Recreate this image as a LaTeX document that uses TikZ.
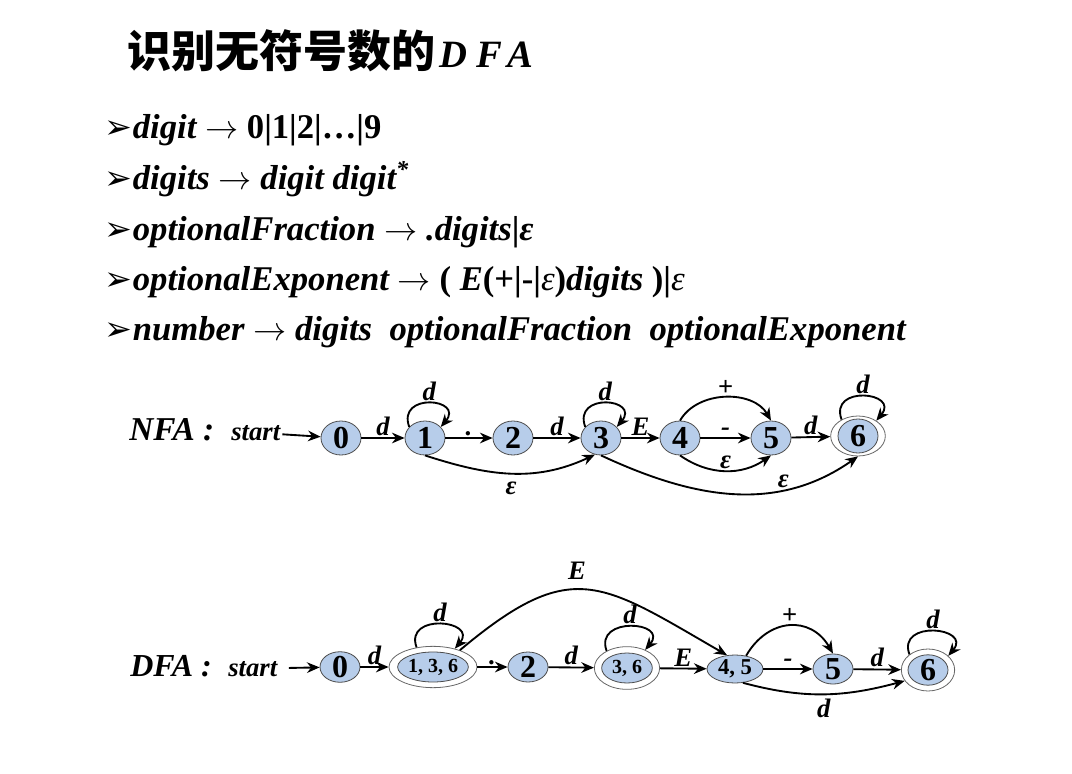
\documentclass[tikz,border=0pt]{standalone}
\usepackage{fontspec}
\usetikzlibrary{shapes.geometric,arrows.meta}
\setmainfont{Liberation Serif}
\newfontfamily\cnfont{Noto Sans CJK SC}
\newfontfamily\symfont{DejaVu Sans}
\newfontfamily\wideserif{Liberation Serif}[LetterSpace=22]
\definecolor{statefill}{HTML}{B7CDEA}
\newcommand\derives{ $\rightarrow$ }
\newcommand\rulemark{{\symfont\fontsize{25}{25}\selectfont\mdseries\upshape ➢}}

\begin{document}
\begin{tikzpicture}[x=0.75pt,y=0.75pt,>={Stealth[length=9.5pt,width=8pt]},line width=1.4pt]
  \tikzstyle{state}=[ellipse,draw=black!70,line width=0.6pt,fill=statefill,inner sep=0pt,
                     minimum width=30pt,minimum height=25.5pt,font=\fontsize{24}{24}\selectfont\bfseries]
  \tikzstyle{ring}=[ellipse,draw=black!60,line width=0.6pt,fill=white,inner sep=0pt]
  \tikzstyle{lbl}=[inner sep=1pt,font=\fontsize{20}{20}\selectfont\bfseries\itshape]
  \tikzstyle{tag}=[anchor=base west,inner sep=1pt,font=\bfseries\itshape]
  \tikzstyle{rule}=[anchor=base west,inner sep=0pt,font=\fontsize{26}{26}\selectfont\bfseries\itshape]
  \tikzstyle{selfloop}=[out=110,in=50,distance=28pt]
  \useasboundingbox (0,0) rectangle (1072,-774);

  % title
  \node[anchor=base west,inner sep=0pt] (title) at (127,-68)
    {{\cnfont\fontsize{33}{33}\selectfont\bfseries 识别无符号数的}\hspace{3pt}{\wideserif\fontsize{29}{29}\selectfont\bfseries\itshape DFA}};

  % regular definitions
  \node[rule] (r1) at (104,-139) {\rulemark digit\derives\textup{0|1|2|…|9}};
  \node[rule] (r2) at (104,-190) {\rulemark digits\derives digit digit\textsuperscript{*}};
  \node[rule] (r3) at (104,-240) {\rulemark optionalFraction\derives .digits\textup{|}ε};
  \node[rule] (r4) at (104,-290) {\rulemark optionalExponent\derives\textup{(} E\textup{(+|-|}\textmd{ε}\textup{)}digits \textup{)|}\textmd{ε}};
  \node[rule] (r5) at (104,-340) {\rulemark number\derives digits\ \ optionalFraction\ \ optionalExponent};

  % NFA
  \node[tag,font=\fontsize{25}{25}\selectfont\bfseries\itshape] (nfa) at (127,-440) {NFA :};
  \node[tag,font=\fontsize{20}{20}\selectfont\bfseries\itshape] (nstart) at (229,-440) {start};
  \node[state] (n0) at (341,-438) {0};
  \node[state] (n1) at (425,-438) {1};
  \node[state] (n2) at (513,-438) {2};
  \node[state] (n3) at (601,-438) {3};
  \node[state] (n4) at (680,-438) {4};
  \node[state] (n5) at (771,-438) {5};
  \node[ring,minimum width=41pt,minimum height=30pt] (n6r) at (858,-436) {};
  \node[state] (n6) at (858,-436) {6};

  \draw[->] (nstart) -- (n0);
  \draw[->] (n0) -- node[lbl,above]{d} (n1);
  \draw[->] (n1) -- node[lbl,above]{.} (n2);
  \draw[->] (n2) -- node[lbl,above]{d} (n3);
  \draw[->] (n3) -- node[lbl,above]{E} (n4);
  \draw[->] (n4) -- node[lbl,above]{-} (n5);
  \draw[->] (n5) -- node[lbl,above]{d} (n6r);
  \draw[->] (n1.145) to[selfloop] node[lbl,above]{d} (n1.35);
  \draw[->] (n3.145) to[selfloop] node[lbl,above]{d} (n3.35);
  \draw[->] (n6r.135) to[selfloop] node[lbl,above]{d} (n6r.40);
  \draw[->] (n4.90) to[out=60,in=120] node[lbl,above]{+} (n5.90);
  \draw[->] (n4.270) to[out=-35,in=-145] node[lbl,above]{ε} (n5.270);
  \draw[->] (n1.270) to[out=-18,in=205] node[lbl,below=5pt]{ε} (n3.250);
  \draw[->] (n3.270) to[out=-25,in=215] node[lbl,above,pos=0.7]{ε} (n6r.270);

  % DFA
  \node[tag,font=\fontsize{24}{24}\selectfont\bfseries\itshape] (dfa) at (128,-676) {DFA :};
  \node[tag,font=\fontsize{20}{20}\selectfont\bfseries\itshape] (dstart) at (226,-676) {start};
  \node[state,minimum height=22.5pt] (d0) at (340,-667) {0};
  \node[ring,minimum width=66pt,minimum height=31pt] (dr136) at (433,-667) {};
  \node[state,minimum width=50pt,minimum height=22.5pt,font=\fontsize{15}{15}\selectfont\bfseries] (d136) at (433,-667) {1, 3, 6};
  \node[state,minimum height=22.5pt] (d2) at (528,-667) {2};
  \node[ring,minimum width=49pt,minimum height=32pt] (dr36) at (627,-668) {};
  \node[state,minimum width=38pt,minimum height=22.5pt,font=\fontsize{15}{15}\selectfont\bfseries] (d36) at (627,-668) {3, 6};
  \node[state,minimum width=42pt,minimum height=21pt,font=\fontsize{17}{17}\selectfont\bfseries] (d45) at (735,-669) {4, 5};
  \node[state,minimum height=22.5pt] (d5) at (833,-669) {5};
  \node[ring,minimum width=40pt,minimum height=31.5pt] (dr6) at (928,-670) {};
  \node[state,minimum height=22.5pt] (d6) at (928,-670) {6};

  \draw[->,shorten <=7pt] (dstart) -- (d0);
  \draw[->] (d0) -- node[lbl,above]{d} (dr136);
  \draw[->] (dr136) -- node[lbl,above]{.} (d2);
  \draw[->] (d2) -- node[lbl,above]{d} (dr36);
  \draw[->] (dr36) -- node[lbl,above]{E} (d45);
  \draw[->] (d45) -- node[lbl,above]{-} (d5);
  \draw[->] (d5) -- node[lbl,above]{d} (dr6);
  \draw[->] (dr136.130) to[selfloop] node[lbl,above]{d} (dr136.40);
  \draw[->] (dr36.140) to[selfloop] node[lbl,above]{d} (dr36.45);
  \draw[->] (dr6.140) to[selfloop] node[lbl,above]{d} (dr6.35);
  \draw[->] (dr136.32) to[out=40,in=150,looseness=1.4] node[lbl,above=6pt,pos=0.45]{E} (d45.120);
  \draw[->] (d45.50) to[out=60,in=120,looseness=1.3] node[lbl,above]{+} (d5.90);
  \draw[->] (d45.300) to[out=-15,in=195] node[lbl,below=2pt]{d} (dr6.205);
\end{tikzpicture}
\end{document}
